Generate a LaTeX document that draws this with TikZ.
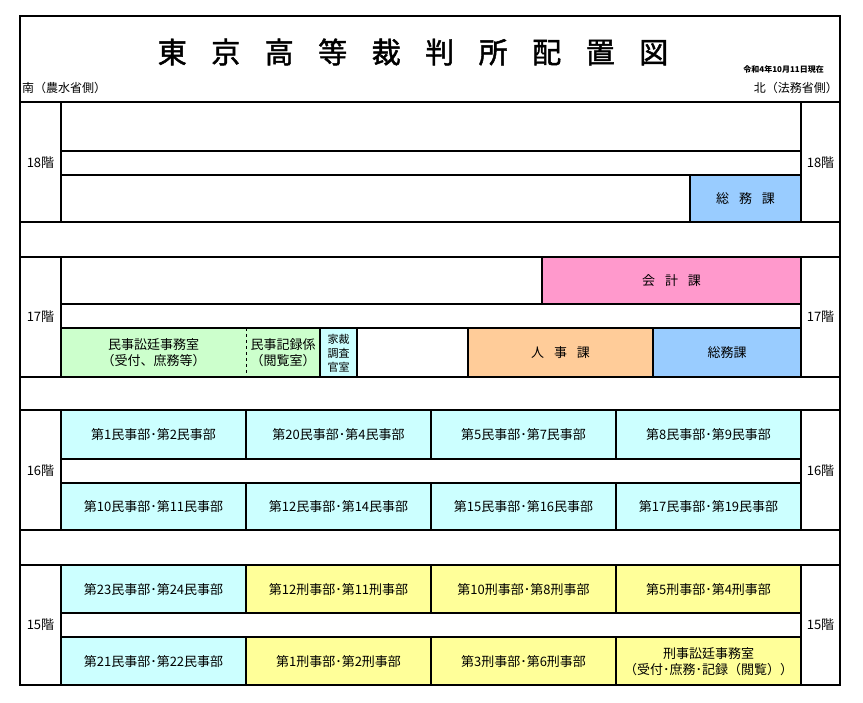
\documentclass[tikz,border=0pt]{standalone}
\usepackage{fontspec}
\setmainfont{Noto Sans CJK JP}
\newfontfamily\titlefont{Noto Sans CJK JP}[FakeBold=1.6]
\definecolor{cBlue}{HTML}{99CCFF}
\definecolor{cPink}{HTML}{FF99CC}
\definecolor{cOrange}{HTML}{FFCC99}
\definecolor{cGreen}{HTML}{CCFFCC}
\definecolor{cCyan}{HTML}{CCFFFF}
\definecolor{cYellow}{HTML}{FFFF99}
\tikzset{
  wall/.style={line width=1.5pt},
  room/.style={draw, line width=1.5pt},
  lbl/.style={font=\fontsize{13}{16}\selectfont, align=center, inner sep=0pt},
  floorlbl/.style={font=\fontsize{13}{15}\selectfont, inner sep=0pt},
}
\begin{document}
\begin{tikzpicture}[x=1pt,y=-1pt]
\useasboundingbox (0,0) rectangle (863,703);
\fill[white] (0,0) rectangle (863,703);
% rooms (fills and borders)
% 18F
\draw[room, fill=cBlue] (690,175) rectangle (801,222);
% 17F
\draw[room, fill=cPink] (542,257) rectangle (801,304);
\draw[room, fill=cGreen] (61,328) rectangle (320,377);
\draw[dashed, line width=0.6pt] (246,328) -- (246,377);
\draw[room, fill=cCyan] (320,328) rectangle (357,377);
\draw[room] (357,328) rectangle (468,377);
\draw[room, fill=cOrange] (468,328) rectangle (653,377);
\draw[room, fill=cBlue] (653,328) rectangle (801,377);
% 16F
\foreach \xa/\xb in {61/246,246/431,431/616,616/801}{
  \draw[room, fill=cCyan] (\xa,410) rectangle (\xb,459);
  \draw[room, fill=cCyan] (\xa,483) rectangle (\xb,530);
}
% 15F
\draw[room, fill=cCyan] (61,565) rectangle (246,613);
\draw[room, fill=cCyan] (61,637) rectangle (246,685);
\foreach \xa/\xb in {246/431,431/616,616/801}{
  \draw[room, fill=cYellow] (\xa,565) rectangle (\xb,613);
  \draw[room, fill=cYellow] (\xa,637) rectangle (\xb,685);
}
% outer frame and walls
\draw[wall] (20,16) rectangle (840,685);
\foreach \y in {102,222,257,377,410,530,565}{
  \draw[wall] (20,\y) -- (840,\y);
}
\foreach \t/\b in {102/222,257/377,410/530,565/685}{
  \draw[wall] (61,\t) -- (61,\b);
  \draw[wall] (801,\t) -- (801,\b);
}
\foreach \y in {151,175,304,328,459,483,613,637}{
  \draw[wall] (61,\y) -- (801,\y);
}
% header texts
\node[inner sep=0pt, font=\fontsize{29}{31}\titlefont] (title) at (413,52)
  {東\hspace{24.5pt}京\hspace{24.5pt}高\hspace{24.5pt}等\hspace{24.5pt}裁\hspace{24.5pt}判\hspace{24.5pt}所\hspace{24.5pt}配\hspace{24.5pt}置\hspace{24.5pt}図};
\node[inner sep=0pt, anchor=east, font=\fontsize{8}{9}\selectfont\bfseries] (date) at (824,69) {令和4年10月11日現在};
\node[inner sep=0pt, anchor=west, font=\fontsize{12}{13}\selectfont] (south) at (22,88) {南（農水省側）};
\node[inner sep=0pt, anchor=east, font=\fontsize{12}{13}\selectfont] (north) at (838,88) {北（法務省側）};
% floor labels
\node[floorlbl] (l18) at (40.5,163) {18階};
\node[floorlbl] (r18) at (820.5,163) {18階};
\node[floorlbl] (l17) at (40.5,317) {17階};
\node[floorlbl] (r17) at (820.5,317) {17階};
\node[floorlbl] (l16) at (40.5,471) {16階};
\node[floorlbl] (r16) at (820.5,471) {16階};
\node[floorlbl] (l15) at (40.5,625) {15階};
\node[floorlbl] (r15) at (820.5,625) {15階};
% room labels
\node[lbl] (somu18) at (745.5,199) {総\hspace{10pt}務\hspace{10pt}課};
\node[lbl] (kaikei) at (671.5,281) {会\hspace{10pt}計\hspace{10pt}課};
\node[lbl] (minjisotei) at (153.5,353) {民事訟廷事務室\\（受付、庶務等）};
\node[lbl] (kiroku) at (283,353) {民事記録係\\（閲覧室）};
\node[lbl, font=\fontsize{11}{14}\selectfont] (kasai) at (338.5,353) {家裁\\調査\\官室};
\node[lbl] (jinji) at (560.5,353) {人\hspace{10pt}事\hspace{10pt}課};
\node[lbl] (somu17) at (727,353) {総務課};
\node[lbl] (m1) at (153.5,435) {第1民事部･第2民事部};
\node[lbl] (m20) at (338.5,435) {第20民事部･第4民事部};
\node[lbl] (m5) at (523.5,435) {第5民事部･第7民事部};
\node[lbl] (m8) at (708.5,435) {第8民事部･第9民事部};
\node[lbl] (m10) at (153.5,507) {第10民事部･第11民事部};
\node[lbl] (m12) at (338.5,507) {第12民事部･第14民事部};
\node[lbl] (m15) at (523.5,507) {第15民事部･第16民事部};
\node[lbl] (m17) at (708.5,507) {第17民事部･第19民事部};
\node[lbl] (m23) at (153.5,590) {第23民事部･第24民事部};
\node[lbl] (k12) at (338.5,590) {第12刑事部･第11刑事部};
\node[lbl] (k10) at (523.5,590) {第10刑事部･第8刑事部};
\node[lbl] (k5) at (708.5,590) {第5刑事部･第4刑事部};
\node[lbl] (m21) at (153.5,662) {第21民事部･第22民事部};
\node[lbl] (k1) at (338.5,662) {第1刑事部･第2刑事部};
\node[lbl] (k3) at (523.5,662) {第3刑事部･第6刑事部};
\node[lbl] (keijisotei) at (708.5,662) {刑事訟廷事務室\\（受付･庶務･記録（閲覧））};
\end{tikzpicture}
\end{document}
